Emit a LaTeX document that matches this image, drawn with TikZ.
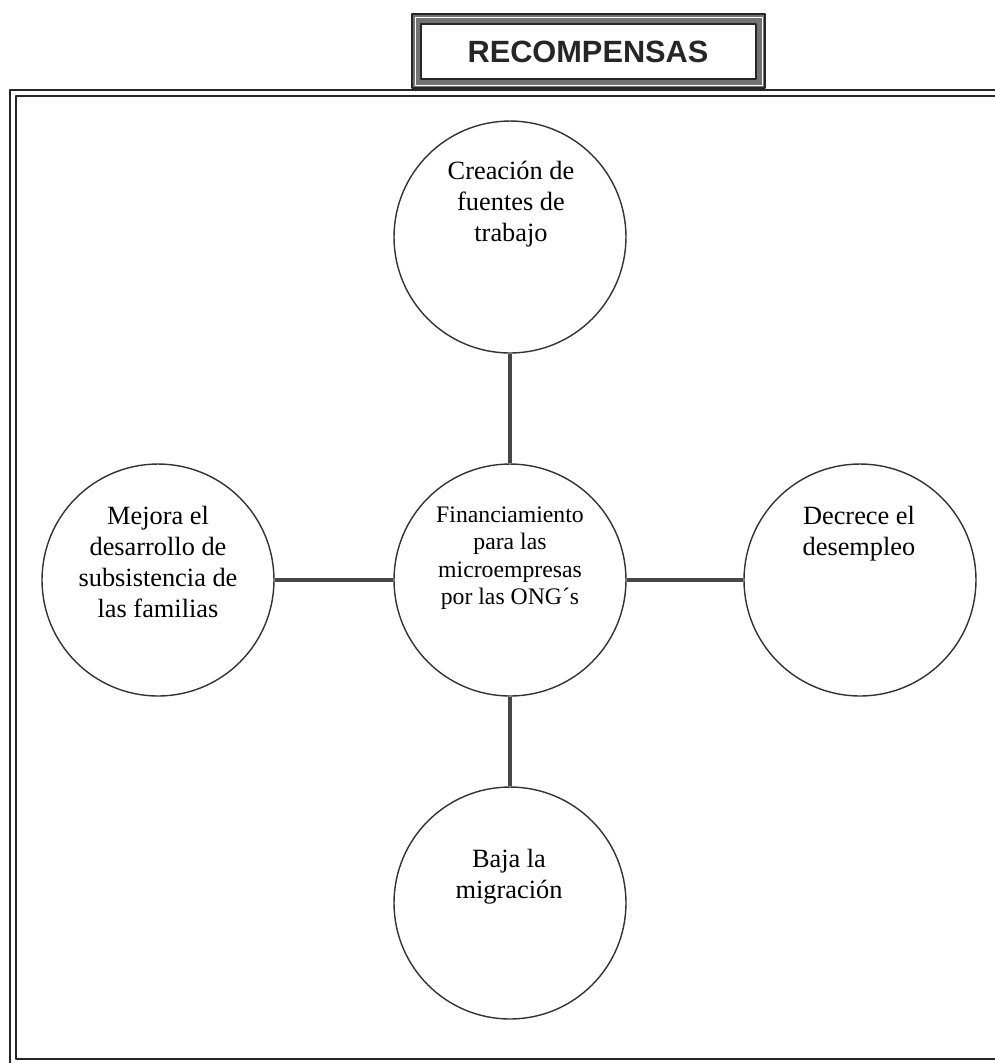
\documentclass[tikz,border=0pt]{standalone}
\usepackage{fontspec}
\setmainfont{Liberation Serif}
\setsansfont{Liberation Sans}
\begin{document}
\begin{tikzpicture}[
	x=0.02cm,
	y=-0.02cm,
	line join=round,
	line cap=round,
	bubble/.style={circle, draw=black!80, line width=0.8pt, minimum size=4.64cm, inner sep=0pt},
	txt/.style={align=center, inner sep=0pt, font=\fontsize{15}{17.6}\selectfont},
	link/.style={line width=2.4pt, draw=black!72, line cap=butt},
	frame/.style={line width=1.1pt, draw=black!85},
	]
\clip (0,0) rectangle (995,1063);
% double frame round the diagram
\draw[frame] (10,90) rectangle (1010,1067);
\draw[frame] (16,96) rectangle (1003,1059);
% title box
\coordinate (t1) at (412,14);
\coordinate (t2) at (765,88);
\fill[black!55] (t1) rectangle (t2);
\draw[line width=1.2pt, black!85] (t1) rectangle (t2);
\draw[line width=0.5pt, white] ([shift={(3,3)}]t1) rectangle ([shift={(-3,-3)}]t2);
\draw[line width=0.9pt, black!85, fill=white] ([shift={(9,10)}]t1) rectangle ([shift={(-9,-9)}]t2);
\node[font=\sffamily\bfseries\fontsize{17.5}{20}\selectfont, black!85] (titulo) at (588,52) {RECOMPENSAS};
% circles
\node[bubble] (centro) at (510,580) {};
\node[bubble] (arriba) at (510,237) {};
\node[bubble] (izq) at (158,580) {};
\node[bubble] (der) at (860,580) {};
\node[bubble] (abajo) at (510,903) {};
\foreach \p in {arriba, izq, der, abajo}
	\draw[link] (centro) -- (\p);
% texts
\node[txt, font=\fontsize{13.5}{15.6}\selectfont] (centro-t) at (510,558) {Financiamiento\\para las\\microempresas\\por las ONG´s};
\node[txt] (arriba-t) at (511,204) {Creación de\\fuentes de\\trabajo};
\node[txt] (izq-t) at (158,562) {Mejora el\\desarrollo de\\subsistencia de\\las familias};
\node[txt] (der-t) at (859,534) {Decrece el\\desempleo};
\node[txt] (abajo-t) at (509,877) {Baja la\\migración};
\end{tikzpicture}
\end{document}
